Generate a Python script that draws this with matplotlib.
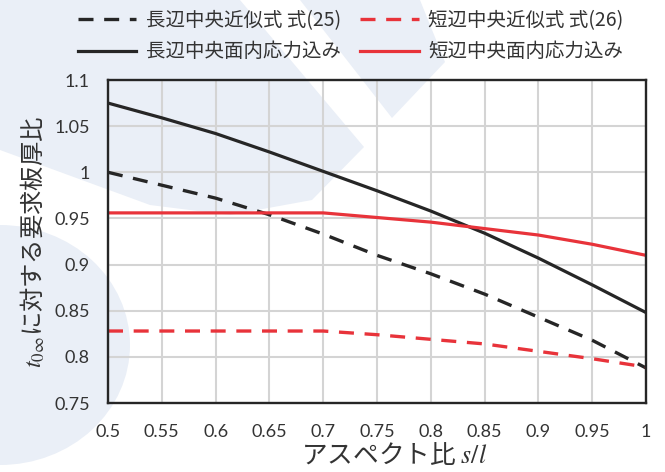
import matplotlib
matplotlib.use("Agg")
import matplotlib.pyplot as plt
from matplotlib.patches import Polygon, Ellipse

plt.rcParams['font.family'] = ['Lato', 'Noto Sans CJK JP', 'DejaVu Sans']
plt.rcParams['mathtext.fontset'] = 'stix'

# aspect ratio s/l
aspect = [0.5, 0.55, 0.6, 0.65, 0.7, 0.75, 0.8, 0.85, 0.9, 0.95, 1.0]

long_approx = [1.000, 0.986, 0.972, 0.954, 0.933, 0.910, 0.890, 0.868, 0.843, 0.818, 0.788]
short_approx = [0.828, 0.828, 0.828, 0.828, 0.828, 0.824, 0.819, 0.814, 0.806, 0.798, 0.789]
long_stress = [1.075, 1.059, 1.042, 1.022, 1.001, 0.980, 0.958, 0.934, 0.907, 0.878, 0.848]
short_stress = [0.956, 0.956, 0.956, 0.956, 0.956, 0.951, 0.946, 0.939, 0.932, 0.922, 0.910]

labels = ['長辺中央近似式 式(25)', '長辺中央面内応力込み',
          '短辺中央近似式 式(26)', '短辺中央面内応力込み']

xticks = [0.5, 0.55, 0.6, 0.65, 0.7, 0.75, 0.8, 0.85, 0.9, 0.95, 1]
yticks = [0.75, 0.8, 0.85, 0.9, 0.95, 1, 1.05, 1.1]

BLACK = '#262626'
RED = '#e8333a'
W, H = 665, 472

fig = plt.figure(figsize=(W / 100, H / 100), dpi=100)
ax = fig.add_axes([108 / W, 1 - 403 / H, (646 - 108) / W, (403 - 80) / H])
ax.set_facecolor('none')


def px(points):
    return [(x / W, 1 - y / H) for x, y in points]


# pale background shapes
wm = '#eaeff7'
shapes = [
    Polygon(px([(0, 0), (240, 0), (364, 147), (312, 200), (230, 215),
                (150, 205), (0, 150)]), closed=True),
    Polygon(px([(300, 0), (420, 0), (445, 62), (392, 118)]), closed=True),
    Ellipse((0, 1 - 345 / H), 260 / W, 240 / H),
]
for s in shapes:
    s.set_transform(fig.transFigure)
    s.set_facecolor(wm)
    s.set_edgecolor('none')
    s.set_zorder(-5)
    fig.patches.append(s)

dash = (0, (4.5, 3.2))
l1, = ax.plot(aspect, long_approx, color=BLACK, lw=2.4, ls=dash)
l2, = ax.plot(aspect, long_stress, color=BLACK, lw=2.3)
l3, = ax.plot(aspect, short_approx, color=RED, lw=2.4, ls=dash)
l4, = ax.plot(aspect, short_stress, color=RED, lw=2.3)

ax.set_xlim(0.5, 1.0)
ax.set_ylim(0.75, 1.1)
ax.set_xticks(xticks)
ax.set_xticklabels([f'{v:g}' for v in xticks])
ax.set_yticks(yticks)
ax.set_yticklabels([f'{v:g}' for v in yticks])
ax.tick_params(axis='both', length=0, labelsize=13, colors='#333333')
ax.tick_params(axis='x', pad=15)
ax.tick_params(axis='y', pad=13)
ax.grid(True, color='#d4d4d4', lw=1.5)
ax.set_axisbelow(True)
for sp in ax.spines.values():
    sp.set_color(BLACK)
    sp.set_linewidth(1.7)

ax.set_xlabel('アスペクト比 $s/l$', fontsize=18.5, family=['Noto Sans CJK JP'],
              color='#333333')
ax.xaxis.set_label_coords(0.532, -0.12)
ax.set_ylabel('$t_{0\\infty}$に対する要求板厚比', fontsize=17.5,
              family=['Noto Sans CJK JP'], color='#333333', labelpad=5)

fig.legend([l1, l2, l3, l4], labels, ncol=2, loc='upper left',
           bbox_to_anchor=(68 / W, 1.0), frameon=False,
           prop={'family': ['Noto Sans CJK JP'], 'size': 14},
           handlelength=3.0, handletextpad=0.5, columnspacing=1.0,
           labelspacing=0.55, borderaxespad=0.1, labelcolor='#333333')

fig.savefig('out.png', dpi=100)
